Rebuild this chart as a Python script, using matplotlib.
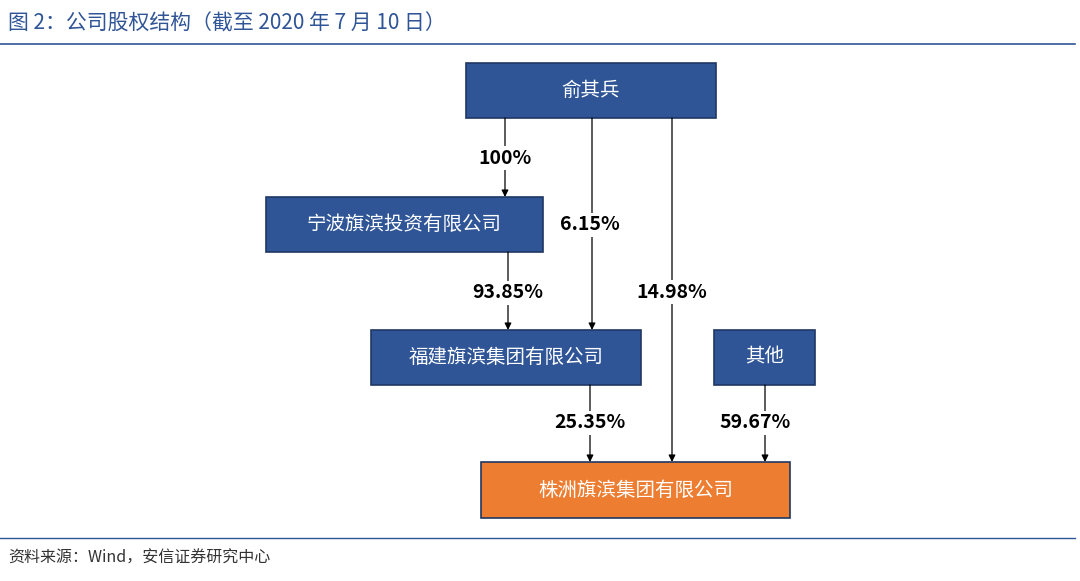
import matplotlib.pyplot as plt
from matplotlib.patches import Rectangle

plt.rcParams["font.family"] = "Noto Sans CJK SC"

# nodes: name, box (left, top, right, bottom) in pixel space, fill colour
node_names = ["俞其兵", "宁波旗滨投资有限公司", "福建旗滨集团有限公司", "其他", "株洲旗滨集团有限公司"]
node_boxes = [(466, 63, 716, 118), (266, 197, 543, 252), (371, 330, 641, 385),
              (714, 330, 815, 385), (481, 462, 790, 518)]
node_colors = ["#2F5597", "#2F5597", "#2F5597", "#2F5597", "#ED7D31"]

# edges: x, y start, y end, share label, label position
edge_x = [505, 592, 672, 508, 590, 765]
edge_y0 = [118, 118, 118, 252, 385, 385]
edge_y1 = [197, 330, 462, 330, 462, 462]
edge_labels = ["100%", "6.15%", "14.98%", "93.85%", "25.35%", "59.67%"]
label_xy = [(505, 158), (590, 225), (672, 292), (508, 293), (590, 423), (755, 423)]

fig = plt.figure(figsize=(10.8, 5.81), dpi=100)
ax = fig.add_axes([0, 0, 1, 1])
ax.set_xlim(0, 1080)
ax.set_ylim(581, 0)
ax.axis("off")

blue = "#2F5597"
ax.text(8, 24, "图 2：公司股权结构（截至 2020 年 7 月 10 日）", fontsize=15,
        color=blue, va="center", ha="left")
ax.plot([0, 1075], [44, 44], color=blue, lw=1.2)
ax.plot([0, 1075], [538, 538], color=blue, lw=1.0)
ax.text(8, 558, "资料来源：Wind，安信证券研究中心", fontsize=11.5, style="italic",
        color="#333333", va="center", ha="left")

for x, y0, y1 in zip(edge_x, edge_y0, edge_y1):
    ax.annotate("", xy=(x, y1), xytext=(x, y0),
                arrowprops=dict(arrowstyle="-|>", color="black", lw=0.9,
                                mutation_scale=10, shrinkA=0, shrinkB=0))

for lab, (x, y) in zip(edge_labels, label_xy):
    ax.text(x, y, lab, fontsize=14, fontweight="bold", ha="center", va="center",
            bbox=dict(facecolor="white", edgecolor="none", pad=2))

for name, (l, t, r, b), c in zip(node_names, node_boxes, node_colors):
    ax.add_patch(Rectangle((l, t), r - l, b - t, facecolor=c,
                           edgecolor="#1F3864", lw=1.2))
    ax.text((l + r) / 2, (t + b) / 2, name, fontsize=14, color="white",
            ha="center", va="center")

fig.savefig("out.png", dpi=100)
